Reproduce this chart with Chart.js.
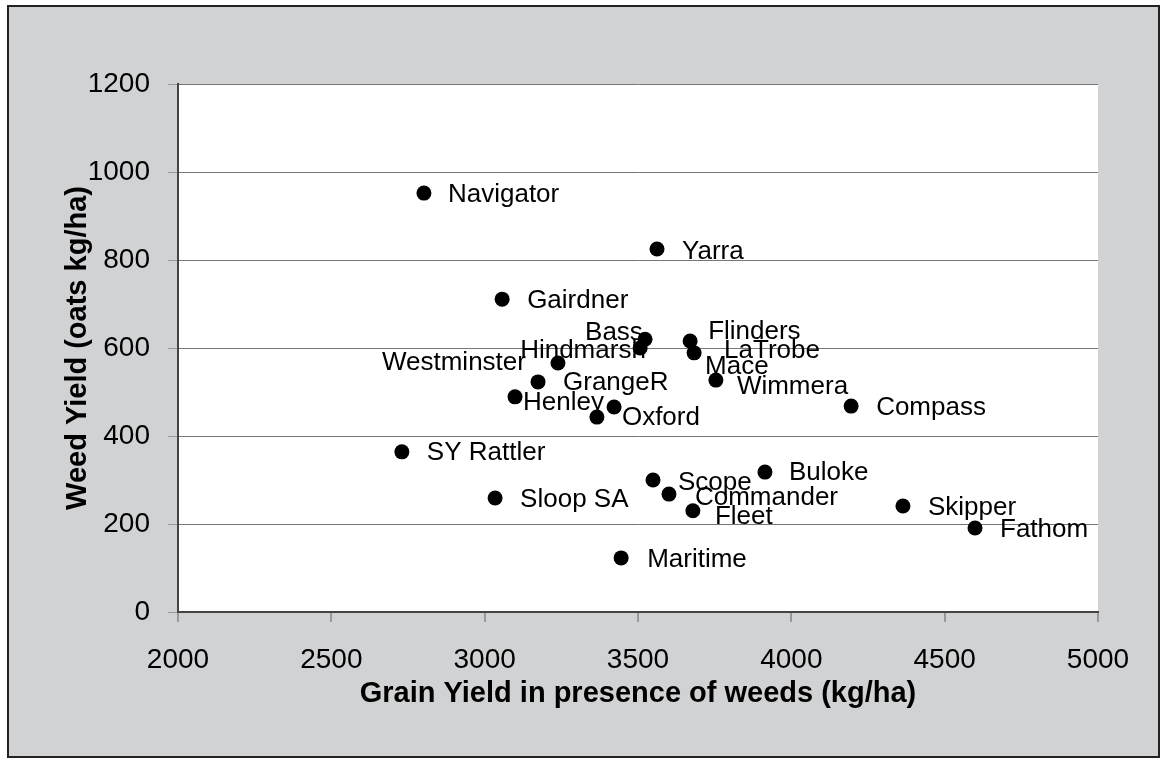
<!DOCTYPE html>
<html lang="en">
<head>
  <meta charset="UTF-8">
  <title>Weed yield vs grain yield</title>
  <script src="https://cdn.jsdelivr.net/npm/chart.js"></script>
  <style>
    body { margin: 0; background: #fff; }
    .frame {
      position: absolute;
      left: 7px;
      top: 5px;
      width: 1153px;
      height: 753px;
      box-sizing: border-box;
      border: 2px solid #222;
      background: #d1d2d4;
    }
    canvas { display: block; }
  </style>
</head>
<body>
  <div class="frame">
    <canvas id="chart" width="1149" height="749"></canvas>
  </div>

  <script>
    // Varieties and their yields
    const varieties = ['Navigator', 'Yarra', 'Gairdner', 'Bass', 'Hindmarsh', 'Westminster',
      'GrangeR', 'Henley', 'Oxford', 'Mace', 'Flinders', 'LaTrobe', 'Wimmera', 'Compass',
      'SY Rattler', 'Sloop SA', 'Scope', 'Commander', 'Fleet', 'Buloke', 'Skipper', 'Fathom', 'Maritime'];
    const grainYield = [2802, 3562, 3057, 3523, 3507, 3239, 3174, 3099, 3366, 3422, 3670, 3683,
      3754, 4195, 2730, 3034, 3549, 3601, 3679, 3914, 4364, 4599, 3445];
    const weedYield = [952, 825, 711, 620, 600, 566, 523, 489, 443, 466, 616, 589, 527, 468,
      364, 259, 300, 268, 230, 318, 241, 191, 123];

    const xTicks = [2000, 2500, 3000, 3500, 4000, 4500, 5000];
    const yTicks = [0, 200, 400, 600, 800, 1000, 1200];

    // where each label sits relative to its marker (px)
    const labelOffsets = [[24, 2], [25, 3], [25, 2], [-60, -6], [-120, 3], [-176, 0],
      [25, 1], [8, 6], [25, 1], [91, -40], [18, -9], [30, -2], [21, 7], [25, 2],
      [25, 1], [25, 2], [25, 3], [26, 4], [22, 6], [24, 1], [25, 2], [25, 2], [26, 2]];

    const FONT = "'Liberation Sans', Arial, sans-serif";

    const plotBg = {
      id: 'plotBg',
      beforeDraw(chart) {
        const { ctx, chartArea: a } = chart;
        ctx.save();
        ctx.fillStyle = '#fff';
        ctx.fillRect(a.left, a.top, a.right - a.left, a.bottom - a.top);
        ctx.restore();
      }
    };

    const pointLabels = {
      id: 'pointLabels',
      afterDatasetsDraw(chart) {
        const { ctx } = chart;
        const meta = chart.getDatasetMeta(0);
        ctx.save();
        ctx.font = '26px ' + FONT;
        ctx.fillStyle = '#000';
        ctx.textAlign = 'left';
        ctx.textBaseline = 'middle';
        meta.data.forEach((pt, i) => {
          const off = labelOffsets[i];
          ctx.fillText(varieties[i], pt.x + off[0], pt.y + off[1]);
        });
        ctx.restore();
      }
    };

    new Chart(document.getElementById('chart'), {
      type: 'scatter',
      data: {
        datasets: [{
          data: grainYield.map((g, i) => ({ x: g, y: weedYield[i] })),
          backgroundColor: '#000',
          borderWidth: 0,
          pointRadius: 7.5,
          pointHoverRadius: 7.5
        }]
      },
      options: {
        responsive: false,
        animation: false,
        events: [],
        layout: { padding: { left: 0, top: 77, right: 60, bottom: 0 } },
        plugins: {
          legend: { display: false },
          tooltip: { enabled: false }
        },
        scales: {
          x: {
            type: 'linear',
            min: xTicks[0],
            max: xTicks[xTicks.length - 1],
            afterBuildTicks: s => { s.ticks = xTicks.map(v => ({ value: v })); },
            afterFit: s => { s.height = 144; },
            ticks: {
              color: '#000', font: { family: FONT, size: 28 }, padding: 21, maxRotation: 0,
              callback: v => String(v)
            },
            grid: { drawOnChartArea: false, tickLength: 10, tickColor: '#999', lineWidth: 2 },
            border: { color: '#444', width: 2 },
            title: {
              display: true,
              text: 'Grain Yield in presence of weeds (kg/ha)',
              color: '#000',
              font: { family: FONT, size: 29, weight: 'bold' },
              padding: { top: 0, bottom: 45 }
            }
          },
          y: {
            type: 'linear',
            min: yTicks[0],
            max: yTicks[yTicks.length - 1],
            afterBuildTicks: s => { s.ticks = yTicks.map(v => ({ value: v })); },
            afterFit: s => { s.width = 169; },
            ticks: {
              color: '#000', font: { family: FONT, size: 28 }, padding: 18,
              callback: v => String(v)
            },
            grid: { color: '#777', lineWidth: 1, tickLength: 10, tickColor: '#999' },
            border: { color: '#444', width: 2 },
            title: {
              display: true,
              text: 'Weed Yield (oats kg/ha)',
              color: '#000',
              font: { family: FONT, size: 29, weight: 'bold' },
              padding: { top: 52, bottom: 0 }
            }
          }
        }
      },
      plugins: [plotBg, pointLabels]
    });
  </script>
</body>
</html>
